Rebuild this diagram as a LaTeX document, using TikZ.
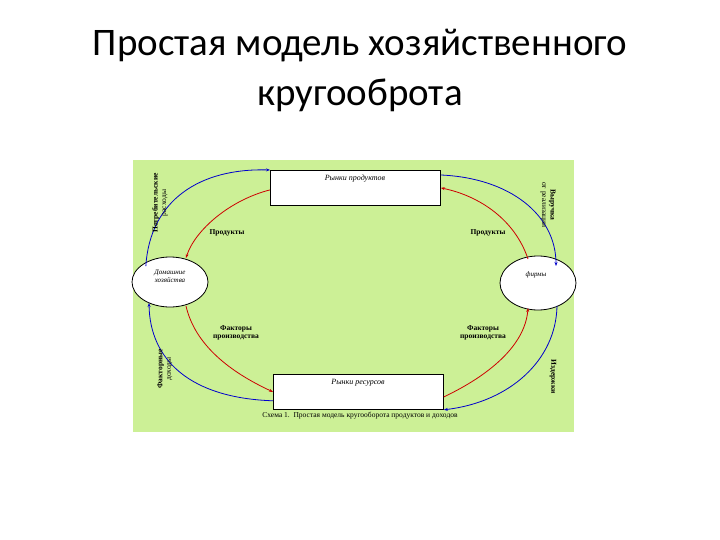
\documentclass[tikz,border=0pt]{standalone}
\usepackage{fontspec}
\setmainfont{Liberation Serif}
\newfontfamily\titlefont{Carlito}
\usetikzlibrary{arrows.meta,shapes.geometric}
\definecolor{bgg}{RGB}{204,240,150}
\begin{document}
\begin{tikzpicture}[x=1pt,y=-1pt,
  box/.style={draw,thick,fill=white,minimum width=170pt,minimum height=35pt,inner sep=0pt},
  hh/.style={draw,thick,fill=white,ellipse,minimum width=76pt,minimum height=50pt,inner sep=0pt},
  lbl/.style={font=\fontsize{7.5}{8.5}\selectfont\bfseries,align=center},
  bl/.style={blue!80!black,thick,-{Stealth[length=4pt]}},
  rd/.style={red!80!black,thick,-{Stealth[length=4pt]}}]
\useasboundingbox (0,0) rectangle (720,540);
\fill[white] (0,0) rectangle (720,540);
\node[font=\titlefont\fontsize{39}{50}\selectfont,align=center] (title) at (360,70) {Простая модель хозяйственного\\кругооброта};
\fill[bgg] (133,160) rectangle (574,432);
\node[box,anchor=north west] (pm) at (270,170) {};
\node[font=\fontsize{8}{9}\selectfont\itshape] (pmt) at (355,179) {Рынки продуктов};
\node[box,anchor=north west] (rm) at (273,374) {};
\node[font=\fontsize{8}{9}\selectfont\itshape] (rmt) at (358,383) {Рынки ресурсов};
\node[hh] (h) at (170,282) {};
\node[font=\fontsize{7}{8}\selectfont\itshape,align=center] (ht) at (170,276) {Домашние\\хозяйства};
\begin{scope}
\clip (133,160) rectangle (577,432);
\node[hh,minimum height=54pt] (f) at (538,283) {};
\end{scope}
\node[font=\fontsize{7}{8}\selectfont\itshape] (ft) at (536,275) {фирмы};
% arrows
\draw[bl] (h.north west) ++(3,2) coordinate (a1) .. controls (150,200) and (200,168) .. (pm.north west);
\draw[rd] (pm.west) ++(0,2) coordinate (a2) .. controls (230,200) and (195,230) .. (186,258);
\draw[bl] (pm.north east) ++(0,5) coordinate (a3) .. controls (510,178) and (556,215) .. (556,266);
\draw[rd] (528,259) .. controls (515,220) and (480,196) .. (pm.east);
\draw[rd] (186,306) .. controls (195,345) and (230,372) .. (rm.west);
\draw[bl] (rm.south west) ++(0,-9) coordinate (b1) .. controls (190,398) and (150,360) .. (149,303);
\draw[rd] (rm.east) ++(0,5) coordinate (b2) .. controls (490,375) and (525,345) .. (528,308);
\draw[bl] (557,306) .. controls (556,360) and (510,402) .. (rm.south east);
% labels
\node[lbl] (l1) at (227,233) {Продукты};
\node[lbl] (l2) at (488,233) {Продукты};
\node[lbl] (l3) at (236,333) {Факторы\\производства};
\node[lbl] (l4) at (483,333) {Факторы\\производства};
\node[lbl,rotate=90] (l5) at (160,203) {Потребительские\\{\mdseries расходы}};
\node[lbl,rotate=-90] (l6) at (548,205) {Выручка\\{\mdseries от реализации}};
\node[lbl,rotate=90] (l7) at (165,369) {Факторные\\{\mdseries доходы}};
\node[lbl,rotate=-90] (l8) at (553,377) {Издержки};
\node[font=\fontsize{7.5}{8}\selectfont] (cap) at (360,416) {Схема 1.\ \ Простая модель кругооборота продуктов и доходов};
\end{tikzpicture}
\end{document}
